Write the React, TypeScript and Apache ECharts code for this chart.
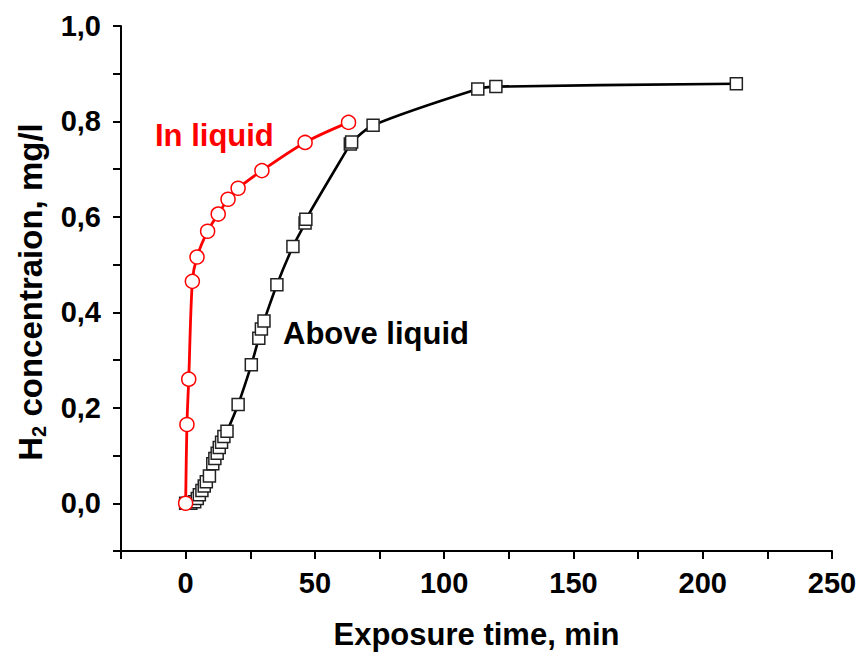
import React, { useEffect, useRef } from "react";
import * as echarts from "echarts";

// In liquid (red circles)
const inLiquidX = [0, 0.5, 1.2, 2.6, 4.4, 8.5, 12.6, 16.4, 20.3, 29.5, 46.2, 63.0];
const inLiquidY = [0, 0.165, 0.26, 0.465, 0.516, 0.57, 0.606, 0.637, 0.66, 0.697, 0.756, 0.798];

// Above liquid (black squares)
const aboveX = [0, 2, 3.5, 4.5, 5.3, 6.3, 7.2, 8, 9.2, 10.5, 11.3, 12.2, 13, 13.9, 14.8, 16, 20.3, 25.4, 28.3, 29.3, 30.3, 35.3, 41.5, 46.2, 46.5, 63.7, 64.2, 72.5, 113, 120, 213];
const aboveY = [0, 0, 0.003, 0.01, 0.018, 0.027, 0.036, 0.045, 0.057, 0.083, 0.094, 0.105, 0.117, 0.128, 0.14, 0.151, 0.207, 0.29, 0.346, 0.365, 0.382, 0.458, 0.538, 0.587, 0.595, 0.753, 0.757, 0.792, 0.868, 0.873, 0.879];

const xMin = -25;
const xMax = 250;
const xStep = 25;
const xLabelStep = 50;
const yMin = -0.1;
const yMax = 1.0;
const yStep = 0.1;

const seriesNames = ["In liquid", "Above liquid"];
const xTitle = "Exposure time, min";
const yTitleParts = ["H", "2", " concentraion, mg/l"];

const FONT = "'Liberation Sans', Arial, sans-serif";

export default function App() {
  const ref = useRef<HTMLDivElement>(null);
  useEffect(() => {
    if (!ref.current) return;
    const chart = echarts.init(ref.current, undefined, { renderer: "svg" });
    const zip = (xs: number[], ys: number[]) => xs.map((x, i) => [x, ys[i]]);
    chart.setOption({
      animation: false,
      backgroundColor: "#ffffff",
      grid: { left: 121, right: 32, top: 26, bottom: 108 },
      xAxis: {
        type: "value",
        min: xMin,
        max: xMax,
        interval: xStep,
        name: xTitle,
        nameLocation: "middle",
        nameGap: 68,
        nameTextStyle: { fontFamily: FONT, fontWeight: "bold", fontSize: 31, color: "#000" },
        axisLine: { onZero: false, lineStyle: { color: "#000", width: 2 } },
        axisTick: { inside: false, length: 8, lineStyle: { color: "#000", width: 2 } },
        splitLine: { show: false },
        axisLabel: {
          margin: 17,
          fontFamily: FONT,
          fontWeight: "bold",
          fontSize: 29,
          color: "#000",
          formatter: (v: number) => (Math.round(v) % xLabelStep === 0 && v >= 0 ? String(Math.round(v)) : ""),
        },
      },
      yAxis: {
        type: "value",
        min: yMin,
        max: yMax,
        interval: yStep,
        axisLine: { onZero: false, lineStyle: { color: "#000", width: 2 } },
        axisTick: { inside: false, length: 8, lineStyle: { color: "#000", width: 2 } },
        splitLine: { show: false },
        axisLabel: {
          margin: 20,
          fontFamily: FONT,
          fontWeight: "bold",
          fontSize: 29,
          color: "#000",
          formatter: (v: number) => {
            const k = Math.round(v * 10);
            if (k < 0 || k % 2 !== 0) return "";
            return (k / 10).toFixed(1).replace(".", ",");
          },
        },
      },
      series: [
        {
          name: seriesNames[1],
          type: "line",
          data: zip(aboveX, aboveY),
          smooth: 0.3,
          symbol: "rect",
          symbolSize: 12,
          lineStyle: { color: "#000", width: 2.6 },
          itemStyle: { color: "#fff", borderColor: "#222", borderWidth: 1.5 },
          z: 2,
        },
        {
          name: seriesNames[0],
          type: "line",
          data: zip(inLiquidX, inLiquidY),
          smooth: 0.3,
          symbol: "circle",
          symbolSize: 14,
          lineStyle: { color: "#ff0000", width: 2.8 },
          itemStyle: { color: "#fff", borderColor: "#ff0000", borderWidth: 1.5 },
          z: 3,
        },
      ],
      graphic: [
        {
          type: "text",
          x: 30,
          y: 292,
          rotation: Math.PI / 2,
          style: {
            text: `{n|${yTitleParts[0]}}{s|${yTitleParts[1]}}{n|${yTitleParts[2]}}`,
            align: "center",
            verticalAlign: "middle",
            rich: {
              n: { fontFamily: FONT, fontWeight: "bold", fontSize: 33, fill: "#000" },
              s: { fontFamily: FONT, fontWeight: "bold", fontSize: 20, fill: "#000", padding: [17, 0, 0, 0] },
            },
          },
        },
        {
          type: "text",
          x: 155,
          y: 135,
          style: { text: seriesNames[0], fill: "#ff0000", font: `bold 31px ${FONT}`, verticalAlign: "middle" },
        },
        {
          type: "text",
          x: 283,
          y: 333,
          style: { text: seriesNames[1], fill: "#000", font: `bold 31px ${FONT}`, verticalAlign: "middle" },
        },
      ],
    });
    return () => chart.dispose();
  }, []);
  return (
    <div
      ref={ref}
      style={{ position: "fixed", left: 0, top: 0, width: 864, height: 659, background: "#fff" }}
    />
  );
}
